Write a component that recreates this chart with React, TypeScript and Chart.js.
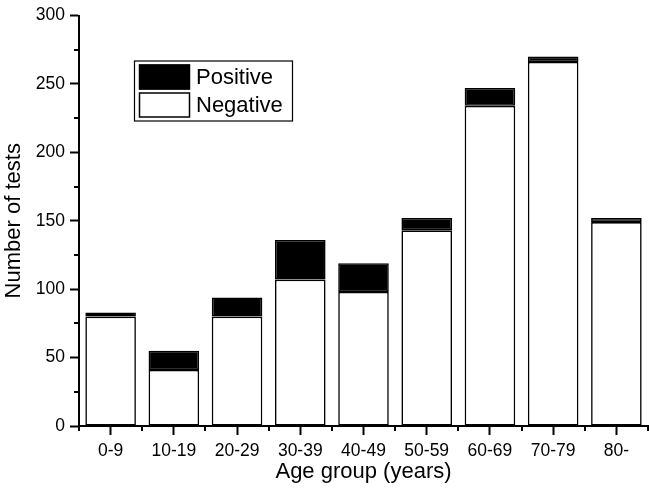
import React, { useEffect, useRef } from 'react';
import { Chart, registerables } from 'chart.js';

Chart.register(...registerables);

const categories = ['0-9', '10-19', '20-29', '30-39', '40-49', '50-59', '60-69', '70-79', '80-'];
const negativeValues = [80, 41, 80, 107, 98, 143, 234, 266, 149];
const positiveValues = [3, 14, 14, 29, 21, 9, 13, 4, 3];
const yMin = 0;
const yMax = 300;
const yStep = 50;
const yMinorStep = 25;

const FONT = '"Liberation Sans", Arial, Helvetica, sans-serif';

const minorTicksPlugin = {
  id: 'minorTicks',
  afterDraw(chart: any) {
    const ctx = chart.ctx;
    const xs = chart.scales.x;
    const ys = chart.scales.y;
    const area = chart.chartArea;
    ctx.save();
    ctx.strokeStyle = '#000';
    ctx.lineWidth = 2;
    for (let v = yMin + yMinorStep; v < yMax; v += yStep) {
      const py = Math.round(ys.getPixelForValue(v));
      ctx.beginPath();
      ctx.moveTo(area.left - 5, py);
      ctx.lineTo(area.left, py);
      ctx.stroke();
    }
    for (let i = 0; i <= categories.length; i++) {
      const px = Math.round(xs.getPixelForValue(i - 0.5));
      ctx.beginPath();
      ctx.moveTo(px, area.bottom);
      ctx.lineTo(px, area.bottom + 5);
      ctx.stroke();
    }
    ctx.restore();
  },
};

const boxLegendPlugin = {
  id: 'boxLegend',
  afterDraw(chart: any) {
    const ctx = chart.ctx;
    const area = chart.chartArea;
    const x0 = area.left + 55;
    const y0 = area.top + 45;
    const w = 158;
    const h = 60;
    ctx.save();
    ctx.fillStyle = '#fff';
    ctx.fillRect(x0, y0, w, h);
    ctx.strokeStyle = '#000';
    ctx.lineWidth = 1.2;
    ctx.strokeRect(x0 + 0.5, y0 + 0.5, w, h);
    const items = [chart.data.datasets[1], chart.data.datasets[0]];
    items.forEach((ds: any, i: number) => {
      const sy = y0 + 4 + i * 28;
      ctx.fillStyle = ds.backgroundColor;
      ctx.fillRect(x0 + 5, sy, 51, 25);
      ctx.strokeStyle = '#000';
      ctx.lineWidth = 1.5;
      ctx.strokeRect(x0 + 5.5, sy + 0.5, 50, 24);
      ctx.fillStyle = '#000';
      ctx.font = `22px ${FONT}`;
      ctx.textBaseline = 'middle';
      ctx.textAlign = 'left';
      ctx.fillText(ds.label, x0 + 62, sy + 13);
    });
    ctx.restore();
  },
};

export default function App() {
  const ref = useRef<HTMLCanvasElement | null>(null);
  useEffect(() => {
    if (!ref.current) return;
    const chart = new Chart(ref.current, {
      type: 'bar',
      data: {
        labels: categories,
        datasets: [
          {
            label: 'Negative',
            data: negativeValues,
            backgroundColor: '#ffffff',
            borderColor: '#000000',
            borderWidth: 1.6,
            borderSkipped: false,
            barPercentage: 0.8,
            categoryPercentage: 1,
          },
          {
            label: 'Positive',
            data: positiveValues,
            backgroundColor: '#000000',
            borderColor: '#000000',
            borderWidth: 1.6,
            borderSkipped: false,
            barPercentage: 0.8,
            categoryPercentage: 1,
          },
        ],
      },
      options: {
        responsive: false,
        animation: false,
        layout: { padding: { left: 0, right: 1, top: 7, bottom: 0 } },
        plugins: {
          legend: { display: false },
          tooltip: { enabled: false },
        },
        scales: {
          x: {
            stacked: true,
            offset: true,
            grid: {
              offset: false,
              drawOnChartArea: false,
              drawTicks: true,
              tickLength: 9,
              tickWidth: 2,
              tickColor: '#000',
            },
            border: { display: true, color: '#000', width: 2 },
            ticks: {
              color: '#000',
              padding: 6,
              font: { family: FONT, size: 17.5 },
              maxRotation: 0,
              autoSkip: false,
            },
            title: {
              display: true,
              text: 'Age group (years)',
              color: '#000',
              font: { family: FONT, size: 22 },
              padding: { top: 0, bottom: 11 },
            },
            afterFit(scale: any) {
              scale.height = 70;
            },
          },
          y: {
            stacked: true,
            min: yMin,
            max: yMax,
            ticks: {
              stepSize: yStep,
              color: '#000',
              padding: 5,
              font: { family: FONT, size: 17.5 },
            },
            grid: {
              drawOnChartArea: false,
              drawTicks: true,
              tickLength: 9,
              tickWidth: 2,
              tickColor: '#000',
            },
            border: { display: true, color: '#000', width: 2 },
            title: {
              display: true,
              text: 'Number of tests',
              color: '#000',
              font: { family: FONT, size: 22 },
              padding: { top: 1, bottom: 0 },
            },
            afterFit(scale: any) {
              scale.width = 79;
            },
          },
        },
      },
      plugins: [minorTicksPlugin, boxLegendPlugin],
    });
    return () => chart.destroy();
  }, []);
  return (
    <div style={{ position: 'absolute', left: 0, top: 0, width: 649, height: 496, background: '#fff' }}>
      <canvas ref={ref} width={649} height={496} style={{ display: 'block' }} />
    </div>
  );
}
